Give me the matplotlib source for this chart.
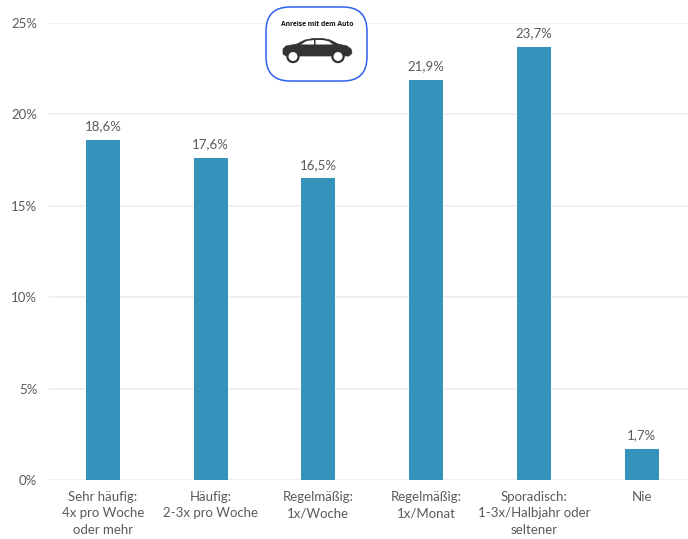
import matplotlib
matplotlib.use('Agg')
import matplotlib.pyplot as plt
from matplotlib.patches import FancyBboxPatch, Polygon, Circle

categories = ['Sehr häufig:\n4x pro Woche\noder mehr', 'Häufig:\n2-3x pro Woche', 'Regelmäßig:\n1x/Woche',
              'Regelmäßig:\n1x/Monat', 'Sporadisch:\n1-3x/Halbjahr oder\nseltener', 'Nie']
values = [18.6, 17.6, 16.5, 21.9, 23.7, 1.7]
value_labels = ['18,6%', '17,6%', '16,5%', '21,9%', '23,7%', '1,7%']
y_ticks = [0, 5, 10, 15, 20, 25]
y_labels = ['0%', '5%', '10%', '15%', '20%', '25%']

W, H = 688, 539
grey = '#5A5A5A'
plt.rcParams['font.family'] = ['Lato', 'DejaVu Sans']

fig = plt.figure(figsize=(W / 100, H / 100), dpi=100)
ax = fig.add_axes([49 / W, 1 - 480 / H, (W - 49) / W, (480 - 23) / H])

ax.bar(range(len(values)), values, 0.315, color='#3492BB', zorder=3)
for i, v in enumerate(values):
    ax.text(i, v + 0.42, value_labels[i], ha='center', va='bottom', fontsize=9.5, color=grey)

ax.set_xlim(-0.5, 5.43)
ax.set_ylim(0, 25)
ax.set_yticks(y_ticks)
ax.set_yticklabels(y_labels, fontsize=9.5, color=grey)
ax.set_xticks(range(len(categories)))
ax.set_xticklabels(categories, fontsize=9.5, color=grey, linespacing=1.42)
ax.tick_params(axis='y', length=0, pad=8.5)
ax.tick_params(axis='x', length=0, pad=8)
ax.grid(axis='y', color='#EDEDED', lw=1.2, zorder=0)
for s in ax.spines.values():
    s.set_visible(False)

# icon on top, in pixel coordinates
ov = fig.add_axes([0, 0, 1, 1], zorder=5)
ov.set_xlim(0, W)
ov.set_ylim(H, 0)
ov.axis('off')
ov.patch.set_alpha(0)
ov.add_patch(FancyBboxPatch((283, 24), 67, 40, boxstyle='round,pad=17,rounding_size=24',
                            fc='white', ec='#2F5FF0', lw=1.1))
ov.text(317.5, 24.5, 'Anreise mit dem Auto', ha='center', va='center', fontsize=4.9,
        fontweight='bold', color='#111111', family=['Open Sans', 'DejaVu Sans'])
car = [(283, 54), (283, 49), (286, 46), (297, 44), (305, 40), (313, 38.5), (323, 38.5), (330, 40),
       (338, 44), (347, 46), (351, 49), (352, 53), (349, 56), (286, 56)]
ov.add_patch(Polygon(car, closed=True, fc='#333333', ec='#333333', lw=0.5, joinstyle='round'))
ov.add_patch(Polygon([(301, 44.5), (306.5, 41), (314, 40), (314, 44.5)], closed=True, fc='white', ec='none'))
ov.add_patch(Polygon([(315.5, 40), (323, 40), (329, 41.5), (333, 44.5), (315.5, 44.5)], closed=True, fc='white', ec='none'))
for cx in (293, 338):
    ov.add_patch(Circle((cx, 56.5), 5.6, fc='white', ec='#333333', lw=1.6))

fig.savefig('out.png', dpi=100)
